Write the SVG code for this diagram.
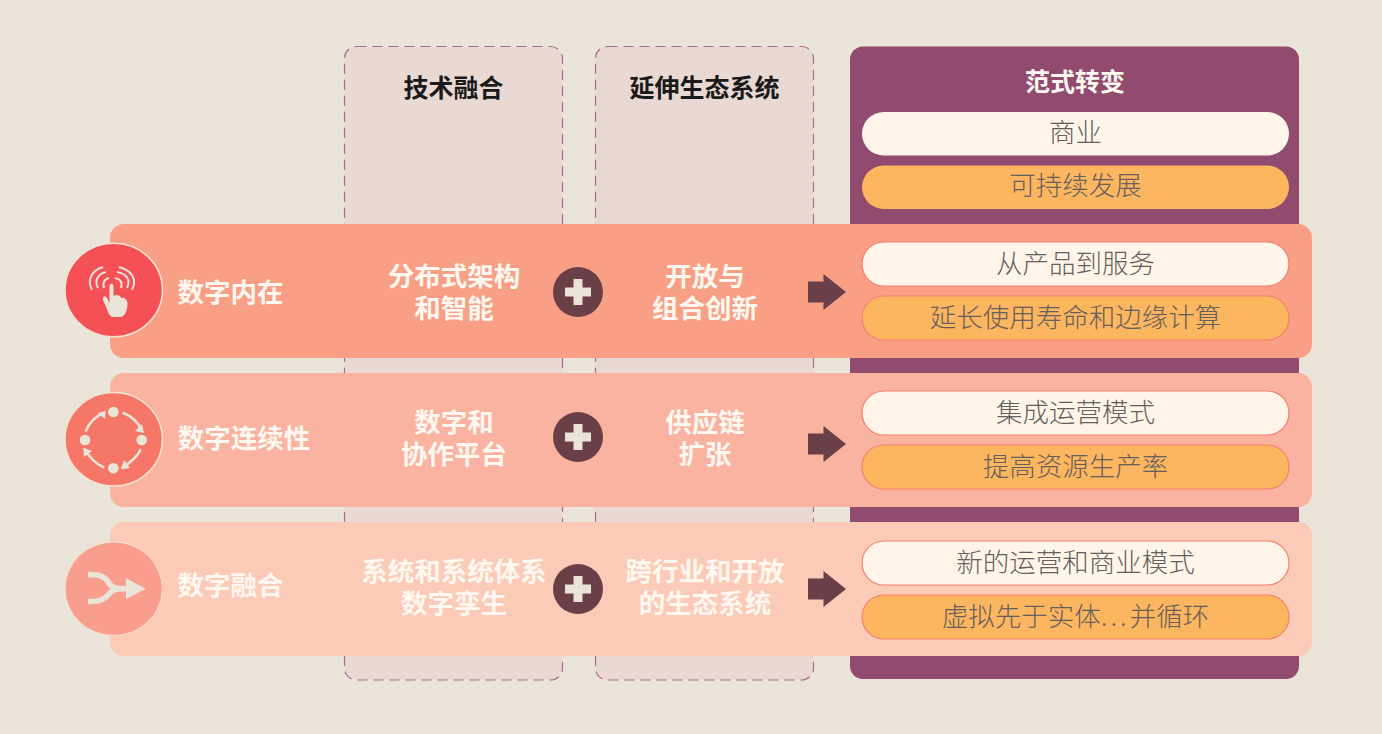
<svg xmlns="http://www.w3.org/2000/svg" width="1382" height="734" viewBox="0 0 1382 734">
<defs>
<style>
text{font-family:"Noto Sans CJK SC","Noto Sans",sans-serif;text-anchor:middle}
.col{fill:#e9d9d2;stroke:#a56a8e;stroke-width:1.2;stroke-dasharray:10 6}
.h{font-size:25px;font-weight:700;fill:#1a1a1a}
.w{font-size:26.500px;font-weight:700;fill:#fff8f0}
.p{font-size:26.500px;font-weight:200;fill:#66605c}
.cream{fill:#fff6e9}
.or{fill:#fdb660}
.pill{stroke:#f5806f;stroke-width:1.2}
.ic{fill:none;stroke:#ebe4d8;stroke-linecap:butt}
.icf{fill:#ebe4d8}
.plus{fill:#6a3f48}
</style>
<g id="plus"><circle r="25" class="plus"/><path class="icf" d="M-4.500-13H4.500V-4.500H13V4.500H4.500V13H-4.500V4.500H-13V-4.500H-4.500Z"/></g>
<path id="arr" class="plus" d="M0-10.500H15.500V-18L38 0 15.500 18V10.500H0Z"/>
</defs>
<rect width="1382" height="734" fill="#ebe4d8"/>
<g id="col-tech"><rect class="col" x="344.500" y="46.500" width="218" height="633.500" rx="12"/><text class="h" x="453.500" y="97">技术融合</text></g>
<g id="col-eco"><rect class="col" x="595.500" y="46.500" width="218" height="633.500" rx="12"/><text class="h" x="704.500" y="97">延伸生态系统</text></g>
<g id="col-shift"><rect x="850" y="46.500" width="449" height="632.500" rx="13" fill="#904b6e"/><text x="1075" y="91" style="font-size:25px;font-weight:700;fill:#fff8f0">范式转变</text>
<rect class="cream" x="862" y="112" width="427" height="43.500" rx="21.700"/><text class="p" x="1075.500" y="142">商业</text>
<rect class="or" x="862" y="165.500" width="427" height="43.500" rx="21.700"/><text class="p" x="1075.500" y="195">可持续发展</text></g>
<g id="row1"><rect x="110" y="224" width="1202" height="134" rx="14" fill="#f89f85"/>
<text class="w" x="230.500" y="302">数字内在</text>
<text class="w" x="454" y="286">分布式架构<tspan x="454" dy="32">和智能</tspan></text>
<text class="w" x="705" y="286">开放与<tspan x="705" dy="32">组合创新</tspan></text>
<use href="#plus" x="578" y="292"/><use href="#arr" x="808" y="292"/>
<rect class="cream pill" x="862" y="242" width="427" height="44" rx="22"/><text class="p" x="1075.500" y="273">从产品到服务</text>
<rect class="or pill" x="862" y="296" width="427" height="44" rx="22"/><text class="p" x="1075.500" y="327">延长使用寿命和边缘计算</text></g>
<g id="row2"><rect x="110" y="373" width="1202" height="134" rx="14" fill="#fab3a0"/>
<text class="w" x="244" y="448">数字连续性</text>
<text class="w" x="454" y="432">数字和<tspan x="454" dy="32">协作平台</tspan></text>
<text class="w" x="705" y="432">供应链<tspan x="705" dy="32">扩张</tspan></text>
<use href="#plus" x="578" y="437"/><use href="#arr" x="808" y="444"/>
<rect class="cream pill" x="862" y="391" width="427" height="44" rx="22"/><text class="p" x="1075.500" y="422">集成运营模式</text>
<rect class="or pill" x="862" y="445" width="427" height="44" rx="22"/><text class="p" x="1075.500" y="476">提高资源生产率</text></g>
<g id="row3"><rect x="110" y="522" width="1202" height="134" rx="14" fill="#fccbb7"/>
<text class="w" x="230.500" y="595">数字融合</text>
<text class="w" x="454" y="581">系统和系统体系<tspan x="454" dy="32">数字孪生</tspan></text>
<text class="w" x="705" y="581">跨行业和开放<tspan x="705" dy="32">的生态系统</tspan></text>
<use href="#plus" x="578" y="589"/><use href="#arr" x="808" y="589"/>
<rect class="cream pill" x="862" y="541" width="427" height="44" rx="22"/><text class="p" x="1075.500" y="572">新的运营和商业模式</text>
<rect class="or pill" x="862" y="595" width="427" height="44" rx="22"/><text class="p" x="1075.500" y="626">虚拟先于实体<tspan letter-spacing="3">...</tspan>并循环</text></g>
<g id="icon-touch"><ellipse cx="113.700" cy="290" rx="48.700" ry="46.800" fill="#f45056" stroke="#f3e3d3" stroke-width="1.500"/>
<g class="ic" stroke-width="2"><path d="M92 290C87 280 91 271 103 267M132 290C137 280 133 271 119 267"/><path d="M98 288C94 280 98 274 106 272M127 288C131 280 127 274 117 272"/><path d="M104 288C102 282 105 279 109 278M121 288C123 282 120 279 115 278"/></g>
<path class="icf" d="M109.500 286C109.500 283 113.500 283 113.500 286V296C117 294 120 295 121 298C124 297 127 299 127.500 303C127.500 310 125 317 120 317H113C110 317 108 313 107 309L103 300C102 297 105 295 107 298L109.500 303Z"/></g>
<g id="icon-cycle"><ellipse cx="113.700" cy="439.300" rx="48.700" ry="46.800" fill="#f67767" stroke="#f3e3d3" stroke-width="1.500"/>
<g class="icf"><circle cx="113.300" cy="412" r="5.300"/><circle cx="141.700" cy="440" r="5.300"/><circle cx="113.300" cy="468.300" r="5.300"/><circle cx="85" cy="440" r="5.300"/></g>
<g class="ic" stroke-width="2.500"><path d="M122.700 412.700C132 416 138 422 142 431"/><path d="M140.700 449.300C138 456 133 461 123 467"/><path d="M104.300 467.700C96 464 90 459 85 449"/><path d="M85.700 431.700C89 422 96 416 105 412.500"/></g>
<g class="icf"><path d="M144 433 135 431 142 424Z"/><path d="M121 469.300 124 460 130 468Z"/><path d="M83.300 447.700 92 451 84 457Z"/><path d="M105.700 410.700 105 419 98 413Z"/></g></g>
<g id="icon-merge"><ellipse cx="113.700" cy="588.700" rx="48.700" ry="46.800" fill="#f99e8e" stroke="#f3e3d3" stroke-width="1"/>
<path class="ic" stroke-width="5.500" d="M88 574.500C100 574.500 104 576 109 583C112 588 114 588.700 127 588.700M88 601.500C100 601.500 104 600 109 594C112 590 114 588.700 127 588.700"/>
<path class="icf" d="M126 578.300 146 588.700 126 599Z"/></g>
</svg>
